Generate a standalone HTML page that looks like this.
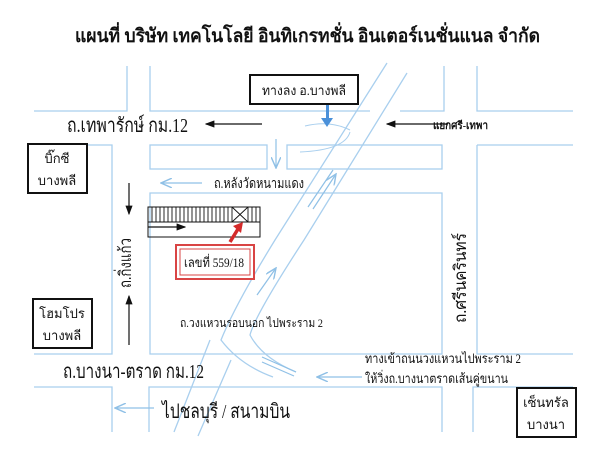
<!DOCTYPE html>
<html><head><meta charset="utf-8"><style>
body{margin:0;background:#fff;width:600px;height:457px;overflow:hidden}
svg{display:block}
text{font-family:"Liberation Serif",serif;fill:#111}
</style></head><body>
<svg width="600" height="457" viewBox="0 0 600 457" xmlns="http://www.w3.org/2000/svg">
<defs>
<marker id="ab" markerWidth="8" markerHeight="6" refX="7" refY="3" orient="auto"><path d="M0,0 L8,3 L0,6 Z" fill="#111"/></marker>
<marker id="al" markerWidth="10" markerHeight="8" refX="9" refY="4" orient="auto"><path d="M0,0 L9,4 L0,8" fill="none" stroke="#8fc0e6" stroke-width="1.2"/></marker>
</defs>
<text x="75" y="42" font-size="19" font-weight="bold" textLength="465" lengthAdjust="spacingAndGlyphs">แผนที่  บริษัท  เทคโนโลยี  อินทิเกรทชั่น  อินเตอร์เนชั่นแนล  จำกัด</text>
<g stroke="#a9cfee" stroke-width="1.3" fill="none">
<path d="M127,66V111H34 M150,66V111H370 M444,66V111H400 M477,66V111H573"/>
<path d="M34,145H112V354H34 M477,145H573 M477,145V354H573"/>
<rect x="150" y="145" width="117" height="24"/>
<rect x="287" y="145" width="155" height="24"/>
<path d="M150,193H442V354H150Z"/>
<path d="M34,387H112V432 M149,432V387H442V432 M473,432V387H573"/>
<path d="M387,63L275,240Q235,305 221,340Q240,365 273,377"/>
<path d="M407,73L304,240Q255,315 250,335Q262,358 296,372"/>
<path d="M231,360L198,436 M210,340L174,432"/>
<path d="M350,130Q330,120 305,126 M350,132Q345,150 300,152" stroke-width="1"/>
</g>
<g stroke="#8fc0e6" stroke-width="1.2" fill="none">
<path d="M276,139V168" marker-end="url(#al)"/>
<path d="M202,183H161" marker-end="url(#al)"/>
<path d="M308,207L333,170 M313,209L336,174" marker-end="url(#al)"/>
<path d="M257,295L276,268" marker-end="url(#al)"/>
<path d="M296,372L262,357 M294,376L262,362"/>
<path d="M362,377H317" marker-end="url(#al)"/>
<path d="M154,408H115" marker-end="url(#al)"/>
</g>
<rect x="326" y="104" width="3" height="16" fill="#4a90d9"/>
<path d="M321,118L327,127L333,118Z" fill="#4a90d9"/>
<rect x="250" y="75" width="108" height="29" fill="#fff" stroke="#111" stroke-width="2"/>
<text x="262" y="95" font-size="13" textLength="84" lengthAdjust="spacingAndGlyphs">ทางลง อ.บางพลี</text>
<text x="67" y="132" font-size="20" textLength="121" lengthAdjust="spacingAndGlyphs">ถ.เทพารักษ์ กม.12</text>
<path d="M262,124H206" stroke="#111" stroke-width="1.2" marker-end="url(#ab)"/>
<path d="M448,124H387" stroke="#111" stroke-width="1.2" marker-end="url(#ab)"/>
<text x="433" y="129" font-size="11" font-weight="bold" textLength="55" lengthAdjust="spacingAndGlyphs">แยกศรี-เทพา</text>
<rect x="28" y="144" width="59" height="49" fill="#fff" stroke="#111" stroke-width="2"/>
<text x="57" y="163" font-size="13" text-anchor="middle">บิ๊กซี</text>
<text x="57" y="185" font-size="13" text-anchor="middle">บางพลี</text>
<text x="214" y="188" font-size="14" textLength="90" lengthAdjust="spacingAndGlyphs">ถ.หลังวัดหนามแดง</text>
<path d="M129,183V214" stroke="#111" stroke-width="1.2" marker-end="url(#ab)"/>
<path d="M129,345V296" stroke="#111" stroke-width="1.2" marker-end="url(#ab)"/>
<rect x="148" y="207" width="112" height="30" fill="none" stroke="#111"/>
<path d="M148,222H260" stroke="#111"/>
<g stroke="#111" stroke-width="0.9">
<path d="M152,207V222M156,207V222M160,207V222M164,207V222M168,207V222M172,207V222M176,207V222M180,207V222M184,207V222M188,207V222M192,207V222M196,207V222M200,207V222M204,207V222M208,207V222M212,207V222M216,207V222M220,207V222M224,207V222M228,207V222M252,207V222M256,207V222"/>
<path d="M232,207V222M248,207V222M232,207L248,222M248,207L232,222"/>
</g>
<path d="M148,227H185" stroke="#111" stroke-width="1.2" marker-end="url(#ab)"/>
<path d="M230,242L238,229" stroke="#d42a2a" stroke-width="3.5"/>
<path d="M233,226L243,222L241,233Z" fill="#d42a2a"/>
<rect x="176" y="245" width="78" height="34" fill="#fff" stroke="#d94444" stroke-width="2"/>
<rect x="180" y="249" width="70" height="26" fill="none" stroke="#d94444" stroke-width="1"/>
<text x="184" y="267" font-size="13" textLength="60" lengthAdjust="spacingAndGlyphs">เลขที่ 559/18</text>
<text transform="translate(131,288) rotate(-90)" font-size="17" textLength="50" lengthAdjust="spacingAndGlyphs">ถ.กิ่งแก้ว</text>
<text transform="translate(466,323) rotate(-90)" font-size="17" textLength="90" lengthAdjust="spacingAndGlyphs">ถ.ศรีนครินทร์</text>
<rect x="33" y="299" width="59" height="49" fill="#fff" stroke="#111" stroke-width="2"/>
<text x="62" y="318" font-size="13" text-anchor="middle">โฮมโปร</text>
<text x="62" y="340" font-size="13" text-anchor="middle">บางพลี</text>
<text x="180" y="327" font-size="12" textLength="143" lengthAdjust="spacingAndGlyphs">ถ.วงแหวนรอบนอก  ไปพระราม 2</text>
<text x="63" y="378" font-size="20" textLength="141" lengthAdjust="spacingAndGlyphs">ถ.บางนา-ตราด กม.12</text>
<text x="365" y="363" font-size="13" textLength="156" lengthAdjust="spacingAndGlyphs">ทางเข้าถนนวงแหวนไปพระราม 2</text>
<text x="365" y="383" font-size="13" textLength="143" lengthAdjust="spacingAndGlyphs">ให้วิ่งถ.บางนาตราดเส้นคู่ขนาน</text>
<text x="162" y="418" font-size="20" textLength="128" lengthAdjust="spacingAndGlyphs">ไปชลบุรี / สนามบิน</text>
<rect x="517" y="388" width="59" height="49" fill="#fff" stroke="#111" stroke-width="2"/>
<text x="546" y="407" font-size="13" text-anchor="middle">เซ็นทรัล</text>
<text x="546" y="429" font-size="13" text-anchor="middle">บางนา</text>
</svg>
</body></html>
